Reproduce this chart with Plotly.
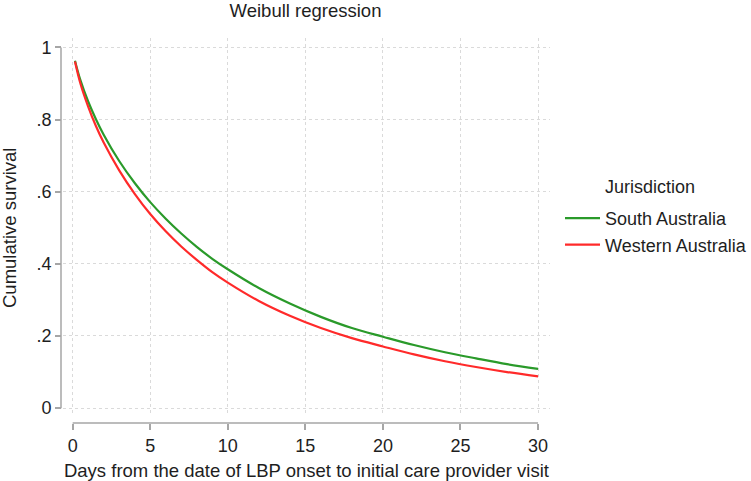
import plotly.graph_objects as go

# Data
days = [0.15, 0.5, 1, 1.5, 2, 3, 4, 5, 6, 7, 8, 9, 10, 12, 14, 16, 18, 20, 22, 24, 26, 28, 30]
south_australia = [0.963, 0.909, 0.850, 0.801, 0.758, 0.685, 0.624, 0.571, 0.525, 0.484, 0.447,
                   0.414, 0.385, 0.333, 0.290, 0.253, 0.222, 0.198, 0.175, 0.155, 0.138, 0.122, 0.109]
western_australia = [0.961, 0.900, 0.836, 0.782, 0.736, 0.659, 0.594, 0.538, 0.490, 0.448, 0.411,
                     0.377, 0.348, 0.297, 0.256, 0.222, 0.194, 0.171, 0.149, 0.130, 0.114, 0.100, 0.088]
y_ticks = [0, 0.2, 0.4, 0.6, 0.8, 1]
y_tick_labels = ["0", ".2", ".4", ".6", ".8", "1"]
x_ticks = [0, 5, 10, 15, 20, 25, 30]

FONT = "Liberation Sans, Arial, sans-serif"
TXT = "#1e1e1e"
AX = "#a6a6a6"
GRID = "#dadada"

fig = go.Figure()
fig.add_trace(go.Scatter(x=days, y=south_australia, mode="lines", name="South Australia",
                         line=dict(color="#2a9a2a", width=2.2, shape="spline")))
fig.add_trace(go.Scatter(x=days, y=western_australia, mode="lines", name="Western Australia",
                         line=dict(color="#ff2a2a", width=2.2, shape="spline")))

fig.update_layout(
    width=751, height=481,
    margin=dict(l=61, r=201, t=38, b=58, autoexpand=False),
    paper_bgcolor="white", plot_bgcolor="white",
    font=dict(family=FONT, size=18, color=TXT),
    title=dict(text="Weibull regression", x=0.5, xref="paper", xanchor="center",
               y=1 - 11 / 481, yref="container", yanchor="middle",
               font=dict(size=18.5, color=TXT)),
    showlegend=True,
    legend=dict(x=(560 - 61) / 489, xanchor="left", y=(423 - 200) / 385, yanchor="top",
                font=dict(size=18, color=TXT), bgcolor="rgba(0,0,0,0)",
                itemwidth=35, tracegroupgap=0),
    xaxis=dict(domain=[0.004, 1], range=[-0.625, 30.77], anchor="free", position=0,
               tickvals=x_ticks, ticks="outside", ticklen=6, tickwidth=1.5, tickcolor=AX,
               showline=False, zeroline=False, automargin=False,
               showgrid=True, gridcolor=GRID, griddash="dot", gridwidth=1,
               tickfont=dict(size=18, color=TXT),
               title=dict(text="Days from the date of LBP onset to initial care provider visit",
                          font=dict(size=18.5, color=TXT), standoff=10)),
    yaxis=dict(domain=[0.018, 1], range=[-0.022, 1.026], anchor="free", position=0,
               tickvals=y_ticks, ticktext=y_tick_labels, ticks="outside", ticklen=6,
               tickwidth=1.5, tickcolor=AX,
               showline=False, zeroline=False, automargin=False,
               showgrid=True, gridcolor=GRID, griddash="dot", gridwidth=1,
               tickfont=dict(size=18, color=TXT)),
    shapes=[
        dict(type="line", xref="x", yref="paper", x0=x_ticks[0], x1=x_ticks[-1], y0=0, y1=0,
             line=dict(color=AX, width=1.5)),
        dict(type="line", xref="paper", yref="y", x0=0, x1=0, y0=y_ticks[0], y1=y_ticks[-1],
             line=dict(color=AX, width=1.5)),
    ],
    annotations=[
        dict(text="Jurisdiction", xref="paper", yref="paper", x=(603 - 61) / 489, y=(423 - 187) / 385,
             xanchor="left", yanchor="middle", showarrow=False, font=dict(size=18, color=TXT)),
        dict(text="Cumulative survival", xref="paper", yref="paper", x=(9 - 61) / 489,
             y=(423 - 228) / 385, xanchor="center", yanchor="middle", textangle=-90,
             showarrow=False, font=dict(size=18.5, color=TXT)),
    ],
)

fig.write_html("out.html")
